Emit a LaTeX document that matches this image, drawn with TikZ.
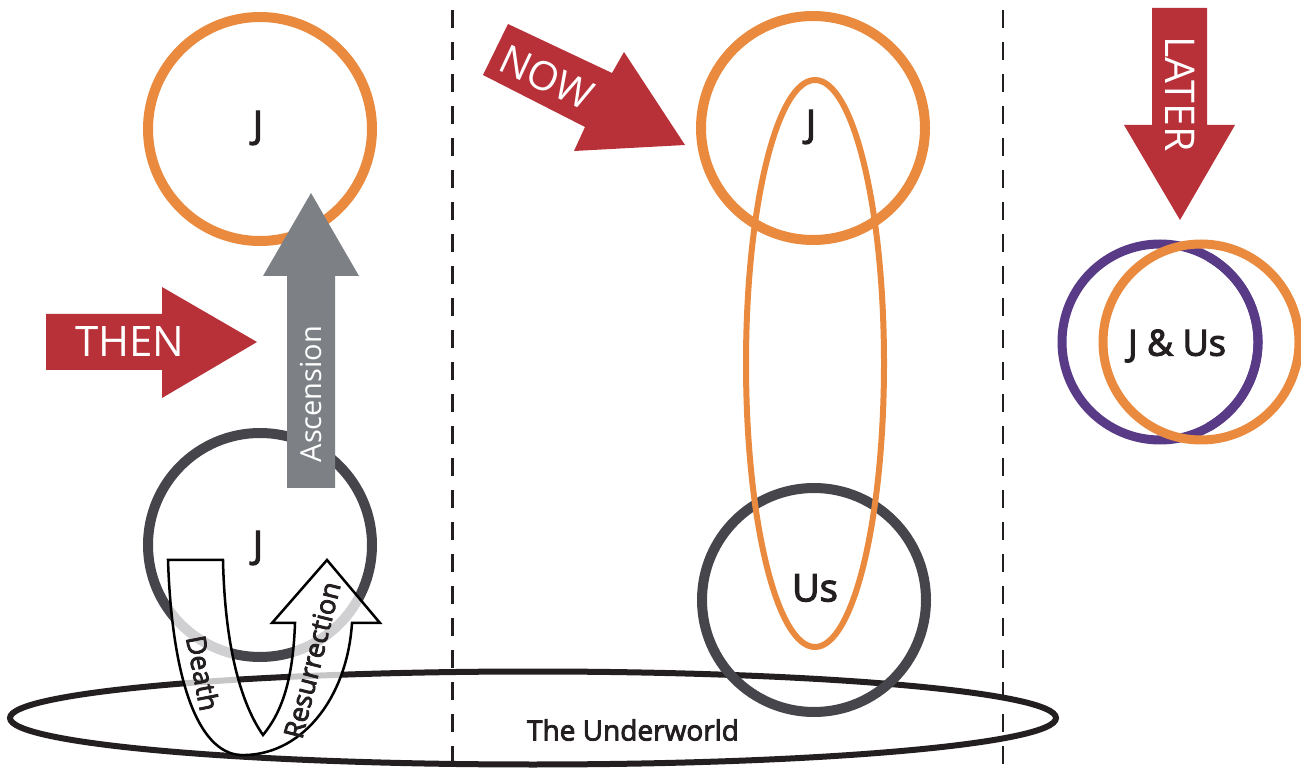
\documentclass[tikz,border=0pt]{standalone}
\usepackage{fontspec}
\setmainfont{Open Sans}
\newfontfamily\semifont{Open Sans}[FakeBold=3]
\usepackage{xcolor}

\definecolor{jorange}{RGB}{233,138,62}
\definecolor{tred}{RGB}{184,48,56}
\definecolor{ascgray}{RGB}{125,129,134}
\definecolor{usdark}{RGB}{70,69,76}
\definecolor{laterpurple}{RGB}{88,58,135}
\definecolor{txtdark}{RGB}{35,31,32}

\begin{document}
\begin{tikzpicture}[x=0.5pt,y=0.5pt,yscale=-1,xscale=1,
        ring/.style={line width=5pt},
        jlabel/.style={inner sep=0.75pt, text=txtdark, font=\semifont\fontsize{19}{22}\selectfont},
        blocktxt/.style={inner sep=0.75pt, text=white}]
        \useasboundingbox (0,0) rectangle (1301,769);

        %Shape: Dashed Lines [id:then-now-later]
        \draw  [line width=1.25pt, color=txtdark, dash pattern={on 9pt off 7pt}, dash phase=11pt]  (452.7,0) -- (452.7,769) ;
        \draw  [line width=1.25pt, color=txtdark, dash pattern={on 9pt off 7pt}, dash phase=11pt]  (1003,0) -- (1003,769) ;

        %Shape: Ellipse [id:underworld]
        \draw  [line width=3pt, color=txtdark]  (533,718) ellipse [x radius=523, y radius=46.5] ;

        %Shape: Circle [id:then-top]
        \draw  [ring, color=jorange]  (260,129) circle (112) ;
        %Shape: Circle [id:then-bottom]
        \draw  [ring, color=usdark]  (260,545) circle (112) ;

        %Shape: Circle [id:now-top]
        \draw  [ring, color=jorange]  (813,128) circle (112) ;
        %Shape: Circle [id:now-bottom]
        \draw  [ring, color=usdark]  (814,600) circle (112) ;
        %Shape: Ellipse [id:now-link]
        \draw  [line width=3pt, color=jorange]  (815,363.5) ellipse [x radius=69, y radius=283.5] ;

        %Shape: Circle [id:later-us]
        \draw  [line width=4.5pt, color=laterpurple]  (1160,342) circle (98) ;
        %Shape: Circle [id:later-j]
        \draw  [line width=4.5pt, color=jorange]  (1201,342) circle (98) ;
        \draw  [line width=4.5pt, color=laterpurple]  (1160,342) ++(-60:98) arc (-60:60:98) ;

        %Shape: Block Arrow [id:then]
        \fill  [tred]  (46,314) -- (162,314) -- (162,287) -- (257,342) -- (162,398) -- (162,370) -- (46,370) -- cycle ;
        %Shape: Block Arrow [id:now]
        \fill  [tred]  (483,75) -- (508,24) -- (612,73) -- (624,52) -- (685,145) -- (574,151) -- (585,127) -- cycle ;
        %Shape: Block Arrow [id:later]
        \fill  [tred]  (1152,8) -- (1207,8) -- (1207,125) -- (1235,125) -- (1180,220) -- (1124,125) -- (1152,125) -- cycle ;
        %Shape: Block Arrow [id:ascension]
        \fill  [ascgray]  (287,488) -- (287,276) -- (263,276) -- (311,193) -- (359,276) -- (335,276) -- (335,488) -- cycle ;

        %Shape: U Arrow [id:death-resurrection]
        \draw  [line width=1.25pt, fill=white, fill opacity=0.75]  (168,560) .. controls (172,680) and (198,752) .. (240,755) .. controls (300,757) and (347,700) .. (352,623) -- (380,623) -- (327,560) -- (272,623) -- (295,623) .. controls (293,680) and (282,712) .. (263,735) .. controls (242,705) and (225,650) .. (223,560) -- cycle ;

        % Text Node
        \node (jthen) at (258,128) [jlabel] {J};
        % Text Node
        \node (jdown) at (258,548) [jlabel] {J};
        % Text Node
        \node (jnow) at (811,127) [jlabel] {J};
        % Text Node
        \node (usnow) at (815,588) [jlabel] {Us};
        % Text Node
        \node (jus) at (1177,346) [jlabel, font=\semifont\fontsize{18}{21}\selectfont] {J \& Us};
        % Text Node
        \node (under) at (633,730) [jlabel, font=\semifont\fontsize{14}{16}\selectfont] {The Underworld};

        % Text Node
        \node (thenlbl) at (130,342) [blocktxt, font=\fontsize{21}{24}\selectfont] {THEN};
        % Text Node
        \node (nowlbl) at (547,77) [blocktxt, rotate=-25, font=\fontsize{20}{23}\selectfont] {NOW};
        % Text Node
        \node (laterlbl) at (1180,94) [blocktxt, rotate=-90, font=\fontsize{20.5}{23}\selectfont] {LATER};
        % Text Node
        \node (asclbl) at (311,394) [blocktxt, rotate=90, font=\fontsize{14.5}{17}\selectfont] {Ascension};
        % Text Node
        \node (deathlbl) at (203,673) [inner sep=0.75pt, text=txtdark, rotate=-79, font=\semifont\fontsize{13.5}{15}\selectfont] {Death};
        % Text Node
        \node (reslbl) at (312,660) [inner sep=0.75pt, text=txtdark, rotate=76, font=\semifont\fontsize{13.5}{15}\selectfont] {Resurrection};

\end{tikzpicture}
\end{document}
